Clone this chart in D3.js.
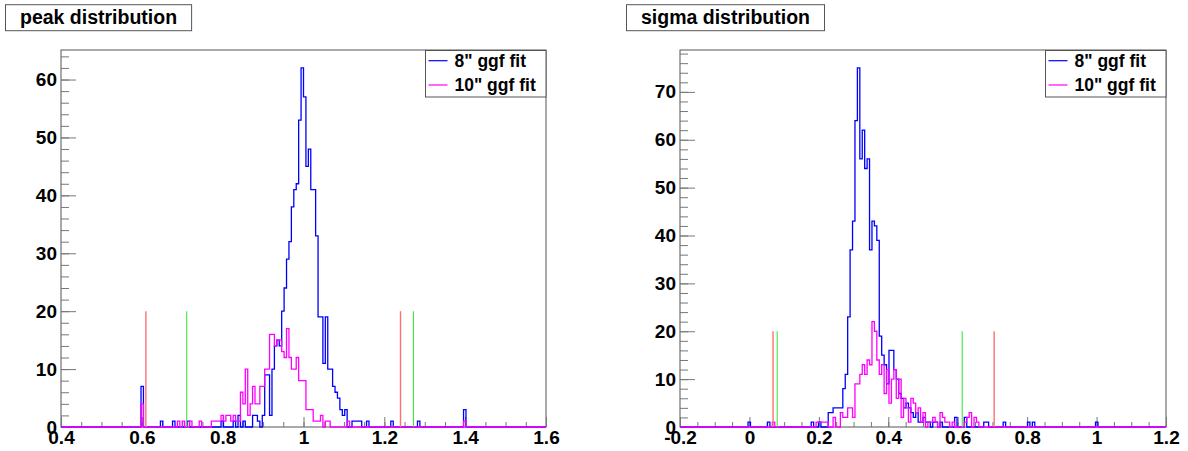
<!DOCTYPE html>
<html>
<head>
<meta charset="utf-8">
<script src="https://cdn.jsdelivr.net/npm/d3@7"></script>
<style>
  html, body { margin: 0; padding: 0; background: #fff; }
  svg text { font-family: "Liberation Sans", Arial, Helvetica, sans-serif; font-weight: bold; fill: #000; }
</style>
</head>
<body>
<svg id="chart" width="1188" height="451"></svg>
<script>
// ---------------- data ----------------
const titles = ["peak distribution", "sigma distribution"];
const legendLabels = ['8" ggf fit', '10" ggf fit'];

// binning of the two histograms (200 bins each)
const peakRange = [0.4, 1.6];
const sigmaRange = [-0.2, 1.2];
const nBins = 200;

// [bin index, count] of non-empty bins
const peak8 = [[33,7],[41,1],[46,1],[52,1],[66,1],[71,1],[73,2],[75,1],[79,2],[80,2],[81,1],[83,2],[84,9],[85,9],[86,2],[87,10],[88,14],[89,15],[90,14],[91,20],[92,24],[93,29],[94,32],[95,38],[96,41],[97,42],[98,53],[99,62],[100,57],[101,45],[102,48],[103,41],[104,41],[105,33],[106,19],[107,19],[108,11],[109,19],[110,10],[111,10],[112,7],[113,6],[114,5],[115,3],[116,2],[117,3],[120,1],[121,1],[122,1],[123,1],[126,1],[136,1],[147,1],[166,3]];
const peak10 = [[33,4],[48,1],[50,1],[53,1],[57,1],[62,1],[63,1],[64,1],[65,1],[66,2],[67,1],[68,2],[69,2],[70,1],[71,2],[72,1],[73,1],[74,6],[75,4],[76,10],[77,2],[78,4],[79,7],[80,4],[81,4],[82,7],[83,7],[84,10],[85,10],[86,16],[87,16],[88,14],[89,15],[90,15],[91,13],[92,12],[93,17],[94,12],[95,10],[96,10],[97,12],[98,8],[99,8],[100,8],[101,3],[102,3],[103,3],[104,1],[105,1],[106,1],[107,2],[109,1],[110,1],[118,1],[166,1]];
const sigma8 = [[28,1],[36,1],[54,1],[57,1],[61,3],[62,3],[63,4],[64,4],[65,4],[66,4],[67,8],[68,11],[69,23],[70,37],[71,43],[72,64],[73,75],[74,56],[75,62],[76,54],[77,56],[78,37],[79,43],[80,42],[81,39],[82,19],[83,15],[84,13],[85,9],[86,16],[87,16],[88,12],[89,10],[90,7],[91,6],[92,4],[93,5],[94,4],[95,3],[96,2],[97,3],[98,1],[99,1],[100,2],[101,1],[102,1],[104,1],[105,1],[107,1],[113,2],[117,2],[125,1],[126,1],[133,1],[143,1],[145,1],[171,1]];
const sigma10 = [[38,1],[56,1],[57,1],[58,1],[59,1],[60,1],[63,2],[66,3],[67,2],[68,2],[69,4],[70,4],[71,2],[72,9],[73,9],[74,11],[75,13],[76,11],[77,14],[78,13],[79,22],[80,20],[81,14],[82,11],[83,13],[84,7],[85,12],[86,5],[87,10],[88,12],[89,6],[90,10],[91,2],[92,6],[93,4],[94,1],[95,6],[96,5],[97,3],[98,4],[99,1],[100,3],[102,1],[103,1],[104,2],[105,1],[107,3],[108,2],[109,1],[110,1],[112,1],[117,1],[118,2],[119,3],[121,2],[122,1]];

// cut markers (vertical lines of height 20)
const peakCutsRed = [0.61, 1.24];
const peakCutsGreen = [0.711, 1.272];
const sigmaCutsRed = [0.068, 0.705];
const sigmaCutsGreen = [0.080, 0.613];
const cutHeight = 20;

// tick labels
const peakXTicks = [0.4, 0.6, 0.8, 1, 1.2, 1.4, 1.6];
const sigmaXTicks = [-0.2, 0, 0.2, 0.4, 0.6, 0.8, 1, 1.2];
const peakYTicks = [0, 10, 20, 30, 40, 50, 60];
const sigmaYTicks = [0, 10, 20, 30, 40, 50, 60, 70];

// ---------------- drawing ----------------
const svg = d3.select("#chart");
const colors = { blue: "#0000ff", pink: "#ff00ff", red: "#ff7070", green: "#3fe83f", axis: "#555", tick: "#777" };
const labelSize = 19;

function fullCounts(sparse) {
  const arr = new Array(nBins).fill(0);
  sparse.forEach(([i, c]) => { arr[i] = c; });
  return arr;
}

function styleLabels(a) {
  a.select(".domain").remove();
  a.selectAll("line").attr("stroke", colors.tick);
  a.selectAll("text").attr("font-size", labelSize).attr("fill", "#000")
    .attr("font-family", '"Liberation Sans", Arial, sans-serif').attr("font-weight", "bold");
}

function drawPanel(cfg) {
  const g = svg.append("g");
  const x = d3.scaleLinear().domain(cfg.range).range([cfg.x0, cfg.x1]);
  const ymax = d3.max(cfg.h8, d => d[1]) * 1.05;
  const y = d3.scaleLinear().domain([0, ymax]).range([427, 50]);

  // frame
  g.append("rect").attr("x", cfg.x0).attr("y", 50).attr("width", cfg.x1 - cfg.x0).attr("height", 377)
    .attr("fill", "#fff").attr("stroke", colors.axis).attr("stroke-width", 1);

  // minor ticks
  const xMinor = d3.range(cfg.range[0], cfg.range[1] + 1e-9, 0.05);
  const yMinor = d3.range(0, ymax, 2);
  g.append("g").attr("transform", "translate(0,427)")
    .call(d3.axisBottom(x).tickValues(xMinor).tickSize(-5).tickFormat(""))
    .call(a => { a.select(".domain").remove(); a.selectAll("line").attr("stroke", colors.tick); });
  g.append("g").attr("transform", `translate(${cfg.x0},0)`)
    .call(d3.axisLeft(y).tickValues(yMinor).tickSize(-8).tickFormat(""))
    .call(a => { a.select(".domain").remove(); a.selectAll("line").attr("stroke", colors.tick); });

  // major ticks + labels
  g.append("g").attr("transform", "translate(0,427)")
    .call(d3.axisBottom(x).tickValues(cfg.xTicks).tickSize(-10).tickPadding(4).tickFormat(d => String(d)))
    .call(styleLabels);
  g.append("g").attr("transform", `translate(${cfg.x0},0)`)
    .call(d3.axisLeft(y).tickValues(cfg.yTicks).tickSize(-15).tickPadding(4).tickFormat(d => String(d)))
    .call(styleLabels);

  // histograms
  const w = (cfg.range[1] - cfg.range[0]) / nBins;
  const line = d3.line().x(d => x(d[0])).y(d => y(d[1]));
  function histPath(sparse, color) {
    const counts = fullCounts(sparse);
    const pts = [[cfg.range[0], 0]];
    counts.forEach((c, i) => {
      pts.push([cfg.range[0] + i * w, c]);
      pts.push([cfg.range[0] + (i + 1) * w, c]);
    });
    pts.push([cfg.range[1], 0]);
    g.append("path").attr("d", line(pts)).attr("fill", "none")
      .attr("stroke", color).attr("stroke-width", 1.3);
  }
  histPath(cfg.h8, colors.blue);
  histPath(cfg.h10, colors.pink);

  // cut lines
  cfg.red.forEach(v => g.append("line").attr("x1", x(v)).attr("x2", x(v)).attr("y1", y(0)).attr("y2", y(cutHeight))
    .attr("stroke", colors.red).attr("stroke-width", 1.4));
  cfg.green.forEach(v => g.append("line").attr("x1", x(v)).attr("x2", x(v)).attr("y1", y(0)).attr("y2", y(cutHeight))
    .attr("stroke", colors.green).attr("stroke-width", 1.1));

  // legend
  const lw = 120.5, lx = cfg.x1 - lw;
  g.append("rect").attr("x", lx).attr("y", 50.5).attr("width", lw).attr("height", 46.5)
    .attr("fill", "#fff").attr("stroke", colors.axis).attr("stroke-width", 1);
  [[colors.blue, 60.7, 66.7], [colors.pink, 85, 91.3]].forEach(([c, ly, tb], i) => {
    g.append("line").attr("x1", lx + 3).attr("x2", lx + 22).attr("y1", ly).attr("y2", ly)
      .attr("stroke", c).attr("stroke-width", 1.2);
    g.append("text").attr("x", lx + 29).attr("y", tb).attr("font-size", 17.5).text(legendLabels[i]);
  });

  // title box
  const tg = svg.append("g");
  const box = tg.append("rect").attr("y", 4.7).attr("height", 26)
    .attr("fill", "#fff").attr("stroke", colors.axis).attr("stroke-width", 1);
  const t = tg.append("text").attr("x", cfg.tx).attr("y", 24).attr("font-size", 19.5).text(cfg.title);
  const tl = t.node().getComputedTextLength();
  box.attr("x", cfg.tx - 14.5).attr("width", tl + 29);
}

drawPanel({ x0: 61, x1: 546, range: peakRange, h8: peak8, h10: peak10, red: peakCutsRed, green: peakCutsGreen,
  xTicks: peakXTicks, yTicks: peakYTicks, title: titles[0], tx: 20 });
drawPanel({ x0: 680, x1: 1166, range: sigmaRange, h8: sigma8, h10: sigma10, red: sigmaCutsRed, green: sigmaCutsGreen,
  xTicks: sigmaXTicks, yTicks: sigmaYTicks, title: titles[1], tx: 641 });
</script>
</body>
</html>
